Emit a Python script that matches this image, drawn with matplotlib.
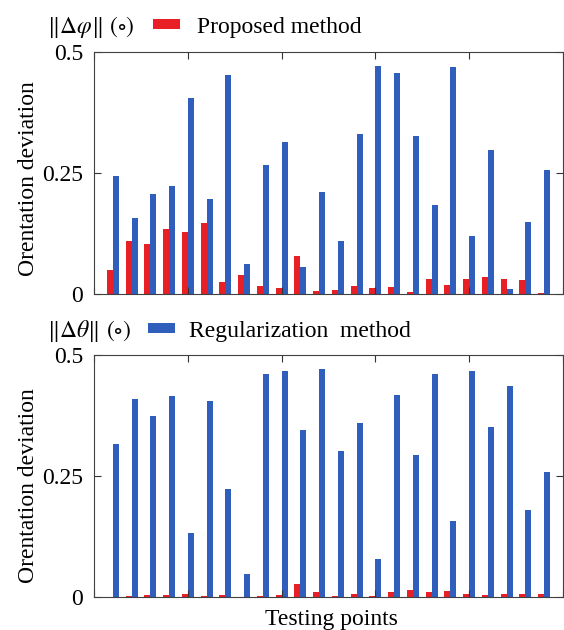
import numpy as np
from matplotlib import pyplot as plt

# datos (24 puntos de prueba)
puntos = np.arange(1, 25)

# ||delta phi|| (panel superior)
phi_propuesto = [0.050, 0.110, 0.103, 0.134, 0.128, 0.147, 0.024, 0.039, 0.017, 0.013,
                 0.079, 0.006, 0.008, 0.017, 0.012, 0.014, 0.005, 0.030, 0.019, 0.031,
                 0.035, 0.032, 0.028, 0.002]
phi_regular = [0.244, 0.157, 0.207, 0.224, 0.405, 0.196, 0.452, 0.061, 0.267, 0.315,
               0.055, 0.210, 0.109, 0.331, 0.471, 0.457, 0.326, 0.184, 0.468, 0.119,
               0.297, 0.010, 0.148, 0.257]

# ||delta theta|| (panel inferior)
theta_propuesto = [0.0005, 0.002, 0.005, 0.004, 0.006, 0.002, 0.004, 0.001, 0.003, 0.004,
                   0.027, 0.010, 0.003, 0.007, 0.003, 0.010, 0.015, 0.010, 0.012, 0.007,
                   0.004, 0.006, 0.007, 0.006]
theta_regular = [0.316, 0.409, 0.375, 0.415, 0.133, 0.405, 0.223, 0.047, 0.460, 0.467,
                 0.345, 0.472, 0.302, 0.360, 0.078, 0.417, 0.293, 0.461, 0.156, 0.466,
                 0.351, 0.435, 0.179, 0.259]

rojo = '#E82025'
azul = '#2F5EBD'

plt.rcParams['font.family'] = ['Liberation Serif', 'DejaVu Serif']
plt.rcParams['mathtext.fontset'] = 'stix'

W, H = 564, 630
fig = plt.figure(figsize=(W / 100, H / 100), dpi=100)
ax1 = fig.add_axes([94 / W, 1 - 294 / H, 469 / W, 242 / H])
ax2 = fig.add_axes([94 / W, 1 - 597 / H, 469 / W, 242 / H])

ancho = 0.32
for ax, rojos, azules, ylab in ((ax1, phi_propuesto, phi_regular, 0.475),
                                (ax2, theta_propuesto, theta_regular, 0.46)):
    b1 = ax.bar(puntos - ancho / 2, rojos, ancho, color=rojo, label='Proposed method')
    b2 = ax.bar(puntos + ancho / 2, azules, ancho, color=azul, label='Regularization  method')
    ax.set_xlim(0, 25)
    ax.set_ylim(0, 0.5)
    ax.set_xticks([0, 5, 10, 15, 20, 25])
    ax.set_xticklabels([])
    ax.set_yticks([0, 0.25, 0.5])
    ax.set_yticklabels(['0', '0.25', '0.5'])
    ax.tick_params(direction='in', length=5, width=0.8, top=True, right=True,
                   labelsize=17, pad=8, color='#333333')
    for s in ax.spines.values():
        s.set_color('#404040')
        s.set_linewidth(0.8)
    ax.set_ylabel('Orentation deviation', fontsize=17)
    ax.yaxis.set_label_coords(-0.118, ylab)
    if ax is ax1:
        barras_top = b1
    else:
        barras_bot = b2

fig.text(47 / W, 1 - 33 / H, r'$\Vert\Delta\varphi\Vert$ $(\circ)$', fontsize=17, va='baseline')
fig.text(47 / W, 1 - 337 / H, r'$\Vert\Delta\theta\Vert$ $(\circ)$', fontsize=17, va='baseline')

fig.legend(handles=[barras_top], loc='center left', bbox_to_anchor=(153 / W, 1 - 27 / H),
           frameon=False, fontsize=17, handlelength=1.15, handleheight=0.3,
           handletextpad=0.7, borderpad=0, borderaxespad=0)
fig.legend(handles=[barras_bot], loc='center left', bbox_to_anchor=(148 / W, 1 - 331 / H),
           frameon=False, fontsize=17, handlelength=1.15, handleheight=0.3,
           handletextpad=0.6, borderpad=0, borderaxespad=0)

fig.text(331 / W, 1 - 625 / H, 'Testing points', fontsize=17, ha='center', va='baseline')

plt.savefig('out.png', dpi=100)
